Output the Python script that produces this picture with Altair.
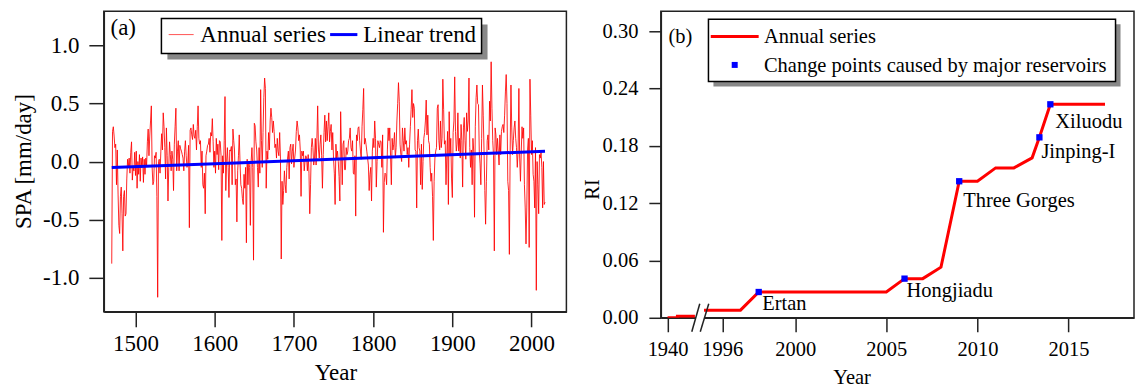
import altair as alt
import pandas as pd

FONT = "Liberation Serif"

# ---------------- Panel (a): SPA annual series ----------------
spa_start_1 = 1470
spa_chunk_1 = [
    -0.88, 0.26, 0.30, 0.22, 0.12, 0.15, -0.20, 0.10, -0.28, -0.55,
    -0.62, -0.30, -0.22, -0.45, -0.77, -0.30, -0.25, -0.47, -0.45, -0.15,
    0.02, -0.05, 0.03, -0.10, 0.08, 0.17, -0.16, -0.05, -0.08, 0.08,
    -0.12, 0.09, -0.23, 0.00, -0.11, 0.06, -0.17, 0.03, -0.05, 0.04,
    -0.18, 0.02, -0.11, 0.03, -0.04, 0.17, 0.28, 0.05, 0.22, 0.35,
    0.48, -0.05, -0.20, -0.17, 0.05, 0.03, 0.08, -0.30, -1.17, 0.00,
    0.02, -0.10, 0.09, 0.24, 0.10, 0.42, 0.30, 0.12, -0.15, 0.29,
    0.05, -0.34, -0.05, 0.17, 0.06, -0.08, 0.09, 0.02, -0.25, 0.15,
    0.30, 0.46, -0.08, 0.09, 0.18, -0.08, 0.14, 0.11, 0.09, 0.06,
    0.03, -0.08, 0.09, 0.18, 0.05, -0.05, -0.02, 0.14, -0.57, 0.27,
    0.29, 0.23, 0.19, 0.32, 0.22, 0.20, 0.27, 0.10, 0.30, 0.48,
    0.20, 0.15, 0.18, -0.05, 0.09, -0.20, -0.23, -0.10, -0.45, 0.05,
    0.09, 0.14, 0.15, 0.20, 0.08, 0.25, 0.22, 0.37, 0.17, -0.05,
    0.09, -0.10, 0.20, 0.06, 0.15, -0.07, 0.18, 0.17, 0.05, -0.68,
]
spa_start_2 = 1610
spa_chunk_2 = [
    0.05, -0.10, 0.18, 0.56, -0.25, 0.00, 0.12, -0.05, -0.31, 0.10,
    0.09, 0.13, -0.20, 0.28, 0.18, 0.10, -0.20, -0.15, -0.52, -0.08,
    0.05, 0.23, -0.02, -0.20, -0.23, -0.32, -0.37, -0.11, -0.23, -0.05,
    -0.70, 0.02, -0.20, 0.00, -0.05, -0.55, 0.00, 0.12, -0.05, -0.85,
    0.33, 0.31, 0.17, 0.10, -0.05, -0.22, 0.12, -0.10, 0.62, 0.18,
    -0.05, 0.25, 0.55, 0.72, 0.63, -0.23, 0.09, 0.02, 0.25, 0.10,
    0.35, 0.46, 0.38, 0.25, 0.35, 0.26, 0.12, 0.15, 0.03, 0.20,
    0.09, 0.05, 0.25, 0.03, -0.84, -0.17, -0.37, -0.25, -0.08, -0.20,
    -0.27, -0.05, 0.03, 0.09, -0.15, 0.12, 0.15, -0.02, 0.09, 0.15,
    -0.05, 0.03, 0.10, 0.26, 0.35, 0.29, 0.18, 0.23, 0.10, -0.30,
    0.09, 0.05, 0.09, -0.08, 0.00, 0.05, 0.03, -0.08, 0.06, -0.10,
    -0.45, -0.20, 0.12, 0.20, 0.12, -0.03, 0.03, 0.20, -0.03, 0.20,
    0.48, 0.10, 0.03, 0.15, 0.23, 0.05, -0.23, 0.06, 0.25, 0.40,
    0.17, 0.35, 0.18, 0.30, 0.42, 0.17, 0.26, 0.32, 0.10, 0.25,
    0.03, -0.10,
]
spa_start_3 = 1752
spa_chunk_3 = [
    -0.37, 0.15, 0.03, 0.09, 0.00, -0.13, -0.34, 0.43,
    0.10, -0.20, 0.15, 0.18, -0.07, -0.07, 0.12, 0.06, 0.09, 0.18,
    0.20, 0.29, 0.12, 0.09, 0.18, -0.10, -0.11, 0.05, -0.47, 0.23,
    0.18, 0.29, 0.30, 0.18, 0.09, 0.02, 0.30, 0.45, 0.63, 0.15,
    0.20, 0.15, 0.09, 0.03, -0.03, -0.25, -0.11, -0.05, -0.34, 0.09,
    0.20, 0.12, 0.35, 0.20, -0.22, 0.00, 0.18, 0.15, 0.12, 0.18,
    0.17, -0.05, 0.23, -0.61, -0.18, -0.10, -0.11, -0.20, 0.10, 0.29,
    0.18, 0.29, 0.05, -0.20, 0.20, 0.10, 0.15, 0.25, 0.03, 0.12,
    0.35, 0.50, 0.68, 0.52, 0.15, 0.06, 0.00, 0.29, 0.18, 0.09,
    0.29, 0.15, 0.18, 0.06, 0.12, -0.05, 0.15, 0.30, 0.45, 0.62,
    0.38, 0.50, 0.46, 0.10, 0.09, -0.40, 0.18, 0.28, 0.12, 0.09,
    -0.20, 0.15, -0.24, 0.00, 0.20, 0.25, 0.35, 0.53, 0.23, 0.40,
    0.18, 0.15, -0.05, -0.17, -0.10, -0.30, -0.68, -0.17, 0.03, 0.09,
    0.12, 0.46, 0.49, 0.18, 0.10, 0.35, 0.12, 0.20, 0.71, 0.45,
    0.15, 0.18, -0.20, 0.05, 0.26, -0.37, 0.43,
]
spa_start_4 = 1897
spa_chunk_4 = [
    0.05, 0.20, -0.15,
    -0.31, 0.25, 0.35, 0.73, 0.26, 0.09, 0.15, 0.42, 0.09, 0.20,
    0.03, 0.32, 0.18, -0.22, 0.29, 0.38, 0.18, 0.02, 0.42, 0.26,
    0.35, 0.72, 0.12, -0.05, 0.10, -0.20, 0.20, 0.09, -0.48, 0.30,
    0.55, 0.66, 0.50, 0.49, 0.09, -0.02, -0.20, 0.20, 0.66, 0.40,
    0.10, -0.25, -0.54, -0.17, 0.18, 0.23, 0.10, 0.52, 0.35, 0.86,
    0.46, 0.18, 0.05, -0.77, 0.29, 0.23, 0.06, 0.20, 0.09, -0.03,
    0.23, 0.06, 0.26, 0.30, 0.32, 0.25, 0.40, 0.60, 0.75, 0.50,
    -0.17, -0.25, -0.80, 0.10, 0.66, 0.29, 0.06, 0.18, 0.29, 0.35,
    0.20, 0.12, -0.05, 0.09, 0.63, 0.03, -0.17, 0.09, 0.30, 0.20,
    0.29, -0.20, -0.40, -0.71, -0.40, 0.10, 0.20, -0.74, 0.71, 0.40,
    0.06, 0.18, -0.11, -0.17, -0.40, 0.12, -1.11, 0.00, -0.20, -0.45,
    0.06, 0.03, 0.08, -0.05, -0.40, 0.00, -0.37, -0.35,
]
trend_years = [1470, 2017]
trend_values = [-0.052, 0.089]

legend_a_labels = ["Annual series", "Linear trend"]
xa_ticks = [1500, 1600, 1700, 1800, 1900, 2000]
ya_ticks = [-1.0, -0.5, 0.0, 0.5, 1.0]

# ---------------- Panel (b): RI series ----------------
ri_years_pre = [1940, 1958, 1958, 1990]
ri_values_pre = [0.0, 0.0, 0.0015, 0.0015]
ri_years = [1995, 1997, 1998, 2005, 2006, 2007, 2008, 2009, 2010, 2011, 2012, 2013, 2013.4, 2014, 2017]
ri_values = [0.008, 0.008, 0.027, 0.027, 0.041, 0.041, 0.053, 0.143, 0.143, 0.157, 0.157,
             0.1675, 0.189, 0.2236, 0.2236]
res_names = ["Ertan", "Hongjiadu", "Three Gorges", "Jinping-I", "Xiluodu"]
res_years = [1998, 2006, 2009, 2013.4, 2014]
res_values = [0.027, 0.041, 0.143, 0.189, 0.2236]
legend_b_labels = ["Annual series", "Change points caused by major reservoirs"]
xb_tick_years = [1940, 1996, 2000, 2005, 2010, 2015]
yb_ticks = [0.0, 0.06, 0.12, 0.18, 0.24, 0.30]

# label offsets (style, pixels)
res_dx = [3.5, 2, 4, 2, 5]
res_dy = [12, 12, 20, 15, 18]


def to_pos(year):
    # compressed segment before the axis break
    return 1993 + (year - 1940) * 0.03 if year < 1995 else year


# ---------------- data frames ----------------
rows = []
for start, vals in [(spa_start_1, spa_chunk_1), (spa_start_2, spa_chunk_2),
                    (spa_start_3, spa_chunk_3), (spa_start_4, spa_chunk_4)]:
    for i, v in enumerate(vals):
        rows.append({"year": start + i, "spa": v})
df_spa = pd.DataFrame(rows)
df_trend = pd.DataFrame({"year": trend_years, "spa": trend_values})

ri_rows = [{"pos": to_pos(y), "ri": v, "seg": "pre"} for y, v in zip(ri_years_pre, ri_values_pre)]
ri_rows += [{"pos": to_pos(y), "ri": v, "seg": "post"} for y, v in zip(ri_years, ri_values)]
df_ri = pd.DataFrame(ri_rows)
df_res = pd.DataFrame({"pos": [to_pos(y) for y in res_years], "ri": res_values, "name": res_names})
one = pd.DataFrame({"k": [0]})


def axis_common(fs):
    return dict(grid=False, domainColor="#222", domainWidth=1.5, tickColor="#222", tickWidth=1.5,
                labelFont=FONT, labelFontSize=fs, labelColor="black",
                titleFont=FONT, titleFontSize=fs, titleFontWeight="normal", titleColor="black")


def box(x, x2, y, y2, fill, stroke=None, sw=0):
    kw = dict(fill=fill)
    if stroke:
        kw.update(stroke=stroke, strokeWidth=sw)
    return alt.Chart(one).mark_rect(**kw).encode(
        x=alt.value(x), x2=alt.value(x2), y=alt.value(y), y2=alt.value(y2))


def hline(x, x2, y, color, sw):
    return alt.Chart(one).mark_rule(color=color, strokeWidth=sw).encode(
        x=alt.value(x), x2=alt.value(x2), y=alt.value(y))


def label(x, y, text, fs):
    return alt.Chart(one).mark_text(text=text, align="left", baseline="middle", font=FONT,
                                    fontSize=fs, color="black").encode(
        x=alt.value(x), y=alt.value(y))


# ---------------- panel (a) ----------------
FA = 23
neg_expr = "datum.value < 0 ? '-' + format(abs(datum.value), '.1f') : format(datum.value, '.1f')"
xa = alt.X("year:Q", scale=alt.Scale(domain=[1460, 2044], nice=False, zero=False),
           axis=alt.Axis(values=xa_ticks, format="d", title="Year", tickSize=15, labelPadding=6,
                         titleX=232, titleY=61, titleAlign="center", titleBaseline="middle",
                         **axis_common(FA)))
ya = alt.Y("spa:Q", scale=alt.Scale(domain=[-1.295, 1.295], nice=False, zero=False),
           axis=alt.Axis(values=ya_ticks, labelExpr=neg_expr, title="SPA [mm/day]", tickSize=15,
                         labelPadding=10, titleX=-80, titleY=150, titleAngle=270,
                         titleAlign="center", titleBaseline="middle", **axis_common(FA)))

a_series = alt.Chart(df_spa).mark_line(color="#ff0000", strokeWidth=1, opacity=0.85).encode(x=xa, y=ya)
a_trend = alt.Chart(df_trend).mark_line(color="#0000ff", strokeWidth=3).encode(x=xa, y=ya)
a_spacer = alt.Chart(one).mark_rule(strokeOpacity=0).encode(
    x=alt.value(0), x2=alt.value(1), y=alt.value(-3))

panel_a = alt.layer(
    a_series, a_trend, a_spacer,
    box(63.7, 384.4, 13.3, 48.3, "#888888"),
    box(57.7, 378.4, 7.3, 42.3, "white", "black", 1.5),
    hline(65, 90, 23.3, "#ff5555", 1),
    label(96.7, 24, legend_a_labels[0], FA),
    hline(226.7, 254, 23.3, "#0000ff", 3),
    label(260, 24, legend_a_labels[1], FA),
    label(6.7, 17, "(a)", FA),
).properties(width=463.4, height=301)

# ---------------- panel (b) ----------------
FB = 20.5
xb_tick_pos = [to_pos(y) for y in xb_tick_years]
xb = alt.X("pos:Q", scale=alt.Scale(domain=[1992.63, 2018.59], nice=False, zero=False),
           axis=alt.Axis(values=xb_tick_pos,
                         labelExpr="datum.value < 1995 ? '1940' : format(datum.value, 'd')",
                         title="Year", tickSize=14, labelPadding=8, titleX=191, titleY=60,
                         titleAlign="center", titleBaseline="middle", **axis_common(FB)))
yb = alt.Y("ri:Q", scale=alt.Scale(domain=[0, 0.321], nice=False, zero=False),
           axis=alt.Axis(values=yb_ticks, format=".2f", title="RI", tickSize=12, labelPadding=11,
                         titleX=-68, titleY=178, titleAngle=270, titleAlign="center",
                         titleBaseline="middle", **axis_common(FB)))

b_line = alt.Chart(df_ri).mark_line(color="#ff0000", strokeWidth=3, clip=True).encode(
    x=xb, y=yb, detail="seg:N")
b_pts = alt.Chart(df_res).mark_square(color="#0000ff", size=40, opacity=1).encode(x=xb, y=yb)
b_labels = []
for i, nm in enumerate(res_names):
    b_labels.append(
        alt.Chart(df_res[df_res["name"] == nm]).mark_text(
            align="left", baseline="middle", font=FONT, fontSize=FB, color="black",
            dx=res_dx[i], dy=res_dy[i]).encode(x=xb, y=yb, text="name:N"))

gap = hline(35, 43.5, 307, "white", 3)
slash1 = alt.Chart(one).mark_rule(color="#222", strokeWidth=1.5).encode(
    x=alt.value(31), x2=alt.value(39), y=alt.value(321), y2=alt.value(293))
slash2 = alt.Chart(one).mark_rule(color="#222", strokeWidth=1.5).encode(
    x=alt.value(39.5), x2=alt.value(48), y=alt.value(321), y2=alt.value(293))

panel_b = alt.layer(
    gap, b_line, b_pts, *b_labels, slash1, slash2,
    box(52.7, 460.5, 13, 75.3, "#888888"),
    box(47.7, 455.5, 8, 70.3, "white", "black", 1.5),
    hline(50, 98, 25.3, "#ff0000", 3),
    label(103.3, 26, legend_b_labels[0], FB),
    alt.Chart(one).mark_square(color="#0000ff", size=36, opacity=1).encode(
        x=alt.value(74), y=alt.value(53.7)),
    label(103.3, 54.5, legend_b_labels[1], FB),
    label(7.7, 25.5, "(b)", FB),
).properties(width=474, height=307)

chart = alt.hconcat(panel_a, panel_b, spacing=14).properties(
    padding={"left": 12, "top": 7, "right": 0, "bottom": 0}
).configure_view(stroke="#222", strokeWidth=1.5)

chart.save("out.html", embed_options={"renderer": "svg", "actions": False})
